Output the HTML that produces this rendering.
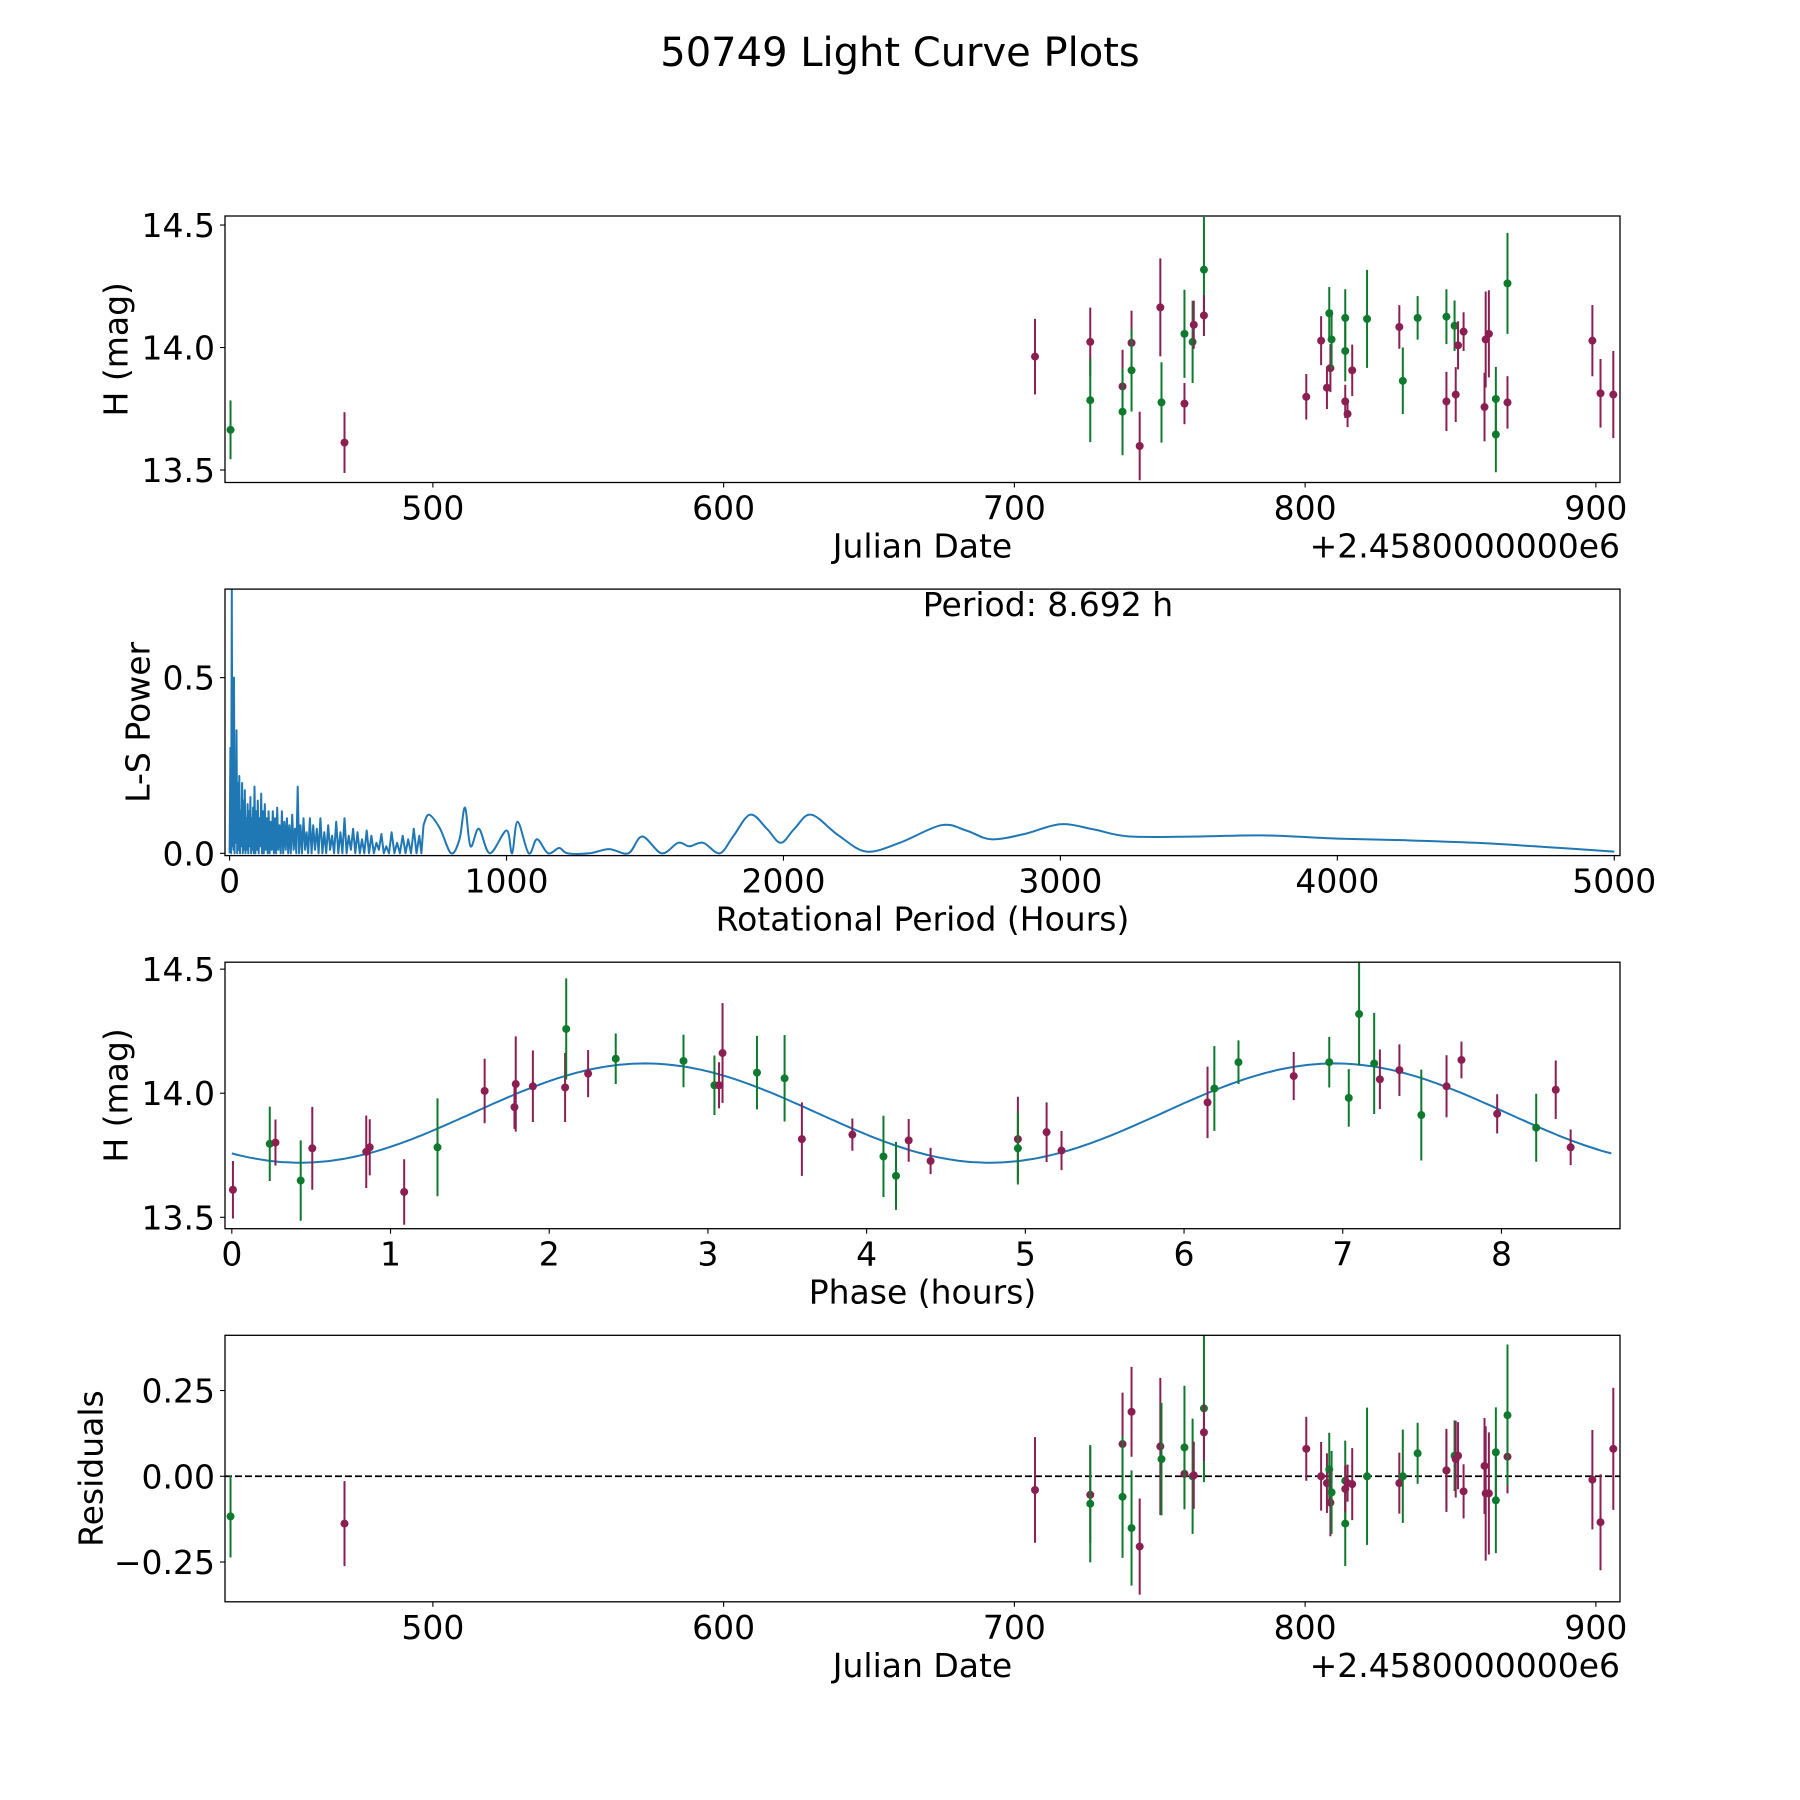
<!DOCTYPE html>
<html><head><meta charset="utf-8">
<style>
html,body{margin:0;padding:0;background:#fff;}
svg{display:block;font-family:"DejaVu Sans","Liberation Sans",sans-serif;}
</style></head>
<body>
<svg id="fig" width="1800" height="1800" viewBox="0 0 1800 1800" xmlns="http://www.w3.org/2000/svg">
<rect width="1800" height="1800" fill="#fff"/>
<text x="900" y="66" font-size="40" text-anchor="middle">50749 Light Curve Plots</text>
</svg>
<script>
// ---------- Panel 1: light curve vs Julian date ----------
const lcDates = [430.4,469.6,707.1,726.1,726.1,737.2,737.2,740.3,740.3,743.1,750.2,750.6,758.5,758.5,761.3,761.7,765.2,765.2,800.4,805.5,807.5,808.3,808.7,809.1,813.8,813.8,813.8,814.6,816.2,821.3,832.4,833.6,838.7,848.6,848.6,851.4,851.8,852.6,854.5,861.7,862.1,863.2,865.6,865.6,869.6,869.6,898.8,901.6,906.0];
const lcMags = [13.664,13.612,13.963,14.023,13.785,13.841,13.738,14.019,13.907,13.598,14.164,13.776,13.771,14.056,14.023,14.093,14.318,14.131,13.799,14.028,13.836,14.14,13.916,14.033,14.121,13.986,13.78,13.729,13.907,14.117,14.084,13.864,14.121,14.126,13.78,14.089,13.808,14.009,14.065,13.757,14.033,14.056,13.79,13.645,13.776,14.262,14.028,13.813,13.808];
const lcErrs = [0.12,0.124,0.154,0.14,0.171,0.15,0.178,0.131,0.168,0.14,0.2,0.164,0.084,0.18,0.168,0.098,0.215,0.084,0.093,0.1,0.087,0.107,0.098,0.121,0.117,0.124,0.068,0.054,0.105,0.2,0.089,0.136,0.089,0.112,0.121,0.103,0.112,0.098,0.079,0.14,0.196,0.178,0.131,0.154,0.107,0.206,0.145,0.14,0.178];
const lcBands = ["g","p","p","p","g","p","g","p","g","p","p","g","p","g","g","p","g","p","p","p","p","g","p","g","g","g","p","p","p","g","p","g","g","g","p","g","p","p","p","p","p","p","g","g","p","g","p","p","p"];
// ---------- Panel 4: residuals (same observations) ----------
const resValues = [-0.117,-0.138,-0.04,-0.054,-0.08,0.094,-0.06,0.188,-0.151,-0.205,0.087,0.05,0.007,0.084,0.0,0.003,0.198,0.128,0.08,0.0,-0.02,0.02,-0.077,-0.047,-0.013,-0.138,-0.037,-0.02,-0.023,0.0,-0.02,0.0,0.067,0.017,0.017,0.06,0.05,0.06,-0.044,0.03,-0.05,-0.05,0.07,-0.07,0.057,0.178,-0.01,-0.134,0.08];
// ---------- Panel 3: phased light curve ----------
const phHours = [0.007,0.239,0.275,0.434,0.507,0.847,0.869,1.086,1.296,1.593,1.781,1.789,1.897,2.100,2.107,2.245,2.419,2.846,3.041,3.070,3.092,3.309,3.483,3.592,3.910,4.106,4.185,4.265,4.403,4.953,4.953,5.134,5.228,6.148,6.191,6.343,6.691,6.915,7.038,7.103,7.198,7.234,7.357,7.495,7.654,7.748,7.973,8.219,8.342,8.436];
const phMags = [13.611,13.796,13.801,13.648,13.778,13.764,13.782,13.602,13.782,14.009,13.944,14.037,14.028,14.023,14.259,14.079,14.139,14.130,14.032,14.032,14.162,14.083,14.060,13.815,13.833,13.745,13.667,13.810,13.727,13.815,13.778,13.843,13.769,13.963,14.019,14.125,14.069,14.125,13.981,14.319,14.120,14.056,14.093,13.912,14.028,14.134,13.917,13.861,14.014,13.782];
const phErrs = [0.116,0.150,0.093,0.162,0.167,0.146,0.113,0.132,0.197,0.130,0.088,0.192,0.144,0.139,0.204,0.095,0.102,0.106,0.120,0.093,0.201,0.148,0.174,0.148,0.065,0.164,0.137,0.086,0.053,0.171,0.146,0.120,0.079,0.144,0.171,0.088,0.097,0.102,0.116,0.208,0.204,0.120,0.104,0.183,0.125,0.074,0.079,0.137,0.118,0.072];
const phBands = ["p","g","p","g","p","p","p","p","g","p","p","p","p","p","g","p","g","g","g","p","p","g","g","p","p","g","g","p","p","p","g","p","p","p","g","g","p","g","g","g","g","p","p","g","p","p","p","g","p","p"];
// fit model parameters: [mean mag, amplitude, half-period (h), phase of minimum (h), full period (h)]
const fitParams = [13.92, 0.2, 4.346, 0.43, 8.692];
// ---------- Panel 2: Lomb-Scargle periodogram ----------
const lsSpikePeriods = [3,8,12,16,20,25,30,35,40,45,50,55,60,65,70,75,80,85,90,96,102,108,114,120,127,134,141,148,156,164,172,180,189,198,207,216,226,236,246,256,267,278,290,302,315,328,342,356,370,385,400,415,430,446,462,478,495,512,530,548,566,585,605,625,645,665,685];
const lsSpikePower = [0.3,0.75,0.45,0.5,0.25,0.35,0.2,0.22,0.12,0.2,0.15,0.18,0.1,0.14,0.12,0.16,0.1,0.13,0.19,0.12,0.15,0.1,0.17,0.12,0.14,0.1,0.12,0.09,0.12,0.1,0.13,0.08,0.12,0.09,0.1,0.08,0.11,0.07,0.19,0.08,0.1,0.06,0.1,0.08,0.07,0.1,0.06,0.08,0.05,0.09,0.06,0.1,0.05,0.07,0.06,0.04,0.065,0.05,0.03,0.055,0.02,0.06,0.03,0.05,0.04,0.07,0.05];
const lsTroughPower = [0.0,0.02,0.01,0.0,0.03,0.0,0.01,0.0,0.02,0.0,0.01,0.0,0.01,0.0,0.02,0.0,0.01,0.0,0.0,0.01,0.0,0.02,0.0,0.0,0.01,0.0,0.0,0.01,0.0,0.0,0.01,0.0,0.0,0.01,0.0,0.0,0.01,0.0,0.0,0.0,0.01,0.0,0.0,0.01,0.0,0.0,0.0,0.01,0.0,0.0,0.0,0.0,0.01,0.0,0.0,0.0,0.0,0.0,0.01,0.0,0.0,0.0,0.0,0.0,0.0,0.0,0.0];
const lsSmoothPeriods = [700,720,760,800,830,850,870,900,940,1000,1020,1040,1080,1110,1150,1190,1220,1300,1370,1440,1490,1560,1620,1660,1710,1770,1820,1880,1940,1990,2040,2100,2200,2300,2420,2570,2660,2750,2870,3000,3120,3250,3500,3730,4000,4250,4500,4750,5000];
const lsSmoothPower = [0.08,0.11,0.07,0.0,0.04,0.13,0.02,0.07,0.0,0.065,0.0,0.09,0.0,0.04,0.0,0.015,0.0,0.0,0.012,0.0,0.048,0.0,0.03,0.02,0.03,0.0,0.05,0.11,0.07,0.03,0.07,0.11,0.05,0.005,0.03,0.08,0.065,0.04,0.055,0.083,0.068,0.048,0.048,0.051,0.042,0.037,0.03,0.018,0.005];

const NS = "http://www.w3.org/2000/svg";
const svg = document.getElementById('fig');
const L = 225, R = 1620, H = 266.5;
const tops = [216, 589.1, 962.2, 1335.3];
const COL = {p:"#8b1f52", g:"#0e7a2e"};
const FS = 33;

function mk(tag, attrs, parent){
  const e = document.createElementNS(NS, tag);
  for (const k in attrs) e.setAttribute(k, attrs[k]);
  (parent||svg).appendChild(e);
  return e;
}
function lin(d0,d1,p0,p1){ return v => p0 + (v-d0)*(p1-p0)/(d1-d0); }

function makeAxes(i, xlim, ylim, name){
  const top = tops[i], bot = top + H;
  const g = mk('g', {});
  
  
  const clipId = 'clip'+i;
  const cp = mk('clipPath', {id: clipId}, g);
  mk('rect', {x:L, y:top, width:R-L, height:H}, cp);
  const plot = mk('g', {'clip-path':'url(#'+clipId+')'}, g);
  return {g, plot, top, bot, x: lin(xlim[0],xlim[1],L,R), y: lin(ylim[0],ylim[1],bot,top)};
}
function frame(ax){
  const f = mk('rect', {x:L, y:ax.top, width:R-L, height:H, fill:'none', stroke:'#000', 'stroke-width':1.3}, ax.g);
  
  
}
function xticks(ax, vals, labels){
  vals.forEach((v,k)=>{
    const px = ax.x(v);
    mk('line', {x1:px, x2:px, y1:ax.bot, y2:ax.bot+5, stroke:'#000', 'stroke-width':1.1}, ax.g);
    const t = mk('text', {x:px, y:ax.bot+37, 'font-size':FS, 'text-anchor':'middle'}, ax.g);
    
    
    t.textContent = labels[k];
  });
}
function yticks(ax, vals, labels){
  vals.forEach((v,k)=>{
    const py = ax.y(v);
    mk('line', {x1:L-5, x2:L, y1:py, y2:py, stroke:'#000', 'stroke-width':1.1}, ax.g);
    const t = mk('text', {x:L-10, y:py+12, 'font-size':FS, 'text-anchor':'end'}, ax.g);
    
    
    t.textContent = labels[k];
  });
}
function xlabel(ax, txt, offset){
  const t = mk('text', {x:(L+R)/2, y:ax.bot+75, 'font-size':FS, 'text-anchor':'middle'}, ax.g);
  
  
  t.textContent = txt;
  if (offset){
    const o = mk('text', {x:R, y:ax.bot+75, 'font-size':FS, 'text-anchor':'end'}, ax.g);
    
    
    o.textContent = offset;
  }
}
function ylabel(ax, txt, cx){
  const cy = ax.top + H/2;
  const t = mk('text', {x:cx, y:cy, 'font-size':FS, 'text-anchor':'middle', 'dominant-baseline':'central', transform:'rotate(-90 '+cx+' '+cy+')'}, ax.g);
  
  
  t.textContent = txt;
}
function errPoints(ax, xs, ys, es, bands){
  xs.forEach((xv,k)=>{
    const c = COL[bands[k]];
    const px = ax.x(xv), py = ax.y(ys[k]);
    const eb = mk('line', {x1:px, x2:px, y1:ax.y(ys[k]-es[k]), y2:ax.y(ys[k]+es[k]), stroke:c, 'stroke-width':2}, ax.plot);
    
    
    const m = mk('circle', {cx:px, cy:py, r:4, fill:c}, ax.plot);
    
    
  });
}

const dateTicks = [500,600,700,800,900], dateLabels = ["500","600","700","800","900"];
const magTicks = [13.5,14.0,14.5], magLabels = ["13.5","14.0","14.5"];

// Panel 1
const a1 = makeAxes(0, [428.5, 908.3], [13.449, 14.537], 'light-curve-panel');
errPoints(a1, lcDates, lcMags, lcErrs, lcBands);
frame(a1);
xticks(a1, dateTicks, dateLabels);
yticks(a1, magTicks, magLabels);
xlabel(a1, 'Julian Date', '+2.4580000000e6');
ylabel(a1, 'H (mag)', 116);

// Panel 2
const a2 = makeAxes(1, [-16.6, 5020.7], [-0.0065, 0.752], 'periodogram-panel');
(function(){
  const pts = [[0, 0]];
  lsSpikePeriods.forEach((p,k)=>{
    pts.push([p, lsSpikePower[k]]);
    const next = k+1 < lsSpikePeriods.length ? lsSpikePeriods[k+1] : lsSmoothPeriods[0];
    pts.push([(p+next)/2, lsTroughPower[k]]);
  });
  let d = pts.map((q,k)=>(k?'L':'M')+a2.x(q[0]).toFixed(1)+' '+a2.y(q[1]).toFixed(1)).join(' ');
  // smooth section: Catmull-Rom spline through samples
  const sp = lsSmoothPeriods.map((p,k)=>[a2.x(p), a2.y(lsSmoothPower[k])]);
  d += ' L'+sp[0][0].toFixed(1)+' '+sp[0][1].toFixed(1);
  for (let k=0;k<sp.length-1;k++){
    const p0 = sp[Math.max(0,k-1)], p1 = sp[k], p2 = sp[k+1], p3 = sp[Math.min(sp.length-1,k+2)];
    const c1x = p1[0]+(p2[0]-p0[0])/6, c1y = p1[1]+(p2[1]-p0[1])/6;
    const c2x = p2[0]-(p3[0]-p1[0])/6, c2y = p2[1]-(p3[1]-p1[1])/6;
    d += ' C'+c1x.toFixed(1)+' '+c1y.toFixed(1)+' '+c2x.toFixed(1)+' '+c2y.toFixed(1)+' '+p2[0].toFixed(1)+' '+p2[1].toFixed(1);
  }
  const path = mk('path', {d, fill:'none', stroke:'#1f77b4', 'stroke-width':2, 'stroke-linejoin':'round'}, a2.plot);
  
  
})();
frame(a2);
xticks(a2, [0,1000,2000,3000,4000,5000], ["0","1000","2000","3000","4000","5000"]);
yticks(a2, [0,0.5], ["0.0","0.5"]);
xlabel(a2, 'Rotational Period (Hours)');
ylabel(a2, 'L-S Power', 138);
(function(){
  const t = mk('text', {x:1048, y:616, 'font-size':FS, 'text-anchor':'middle'}, a2.g);
  
  
  t.textContent = 'Period: ' + fitParams[4].toFixed(3) + ' h';
})();

// Panel 3
const a3 = makeAxes(2, [-0.043, 8.747], [13.454, 14.528], 'phase-panel');
(function(){
  const n = 300, pts = [];
  for (let k=0;k<=n;k++){
    const p = fitParams[4]*k/n;
    const m = fitParams[0] - fitParams[1]*Math.cos(2*Math.PI*(p-fitParams[3])/fitParams[2]);
    pts.push((k?'L':'M')+a3.x(p).toFixed(1)+' '+a3.y(m).toFixed(1));
  }
  const path = mk('path', {d:pts.join(' '), fill:'none', stroke:'#1f77b4', 'stroke-width':2}, a3.plot);
  
  
})();
errPoints(a3, phHours, phMags, phErrs, phBands);
frame(a3);
xticks(a3, [0,1,2,3,4,5,6,7,8], ["0","1","2","3","4","5","6","7","8"]);
yticks(a3, magTicks, magLabels);
xlabel(a3, 'Phase (hours)');
ylabel(a3, 'H (mag)', 116);

// Panel 4
const a4 = makeAxes(3, [428.5, 908.3], [-0.366, 0.411], 'residuals-panel');
(function(){
  const z = mk('line', {x1:L, x2:R, y1:a4.y(0), y2:a4.y(0), stroke:'#000', 'stroke-width':1.8, 'stroke-dasharray':'7,3'}, a4.plot);
  
  
})();
errPoints(a4, lcDates, resValues, lcErrs, lcBands);
frame(a4);
xticks(a4, dateTicks, dateLabels);
yticks(a4, [-0.25,0,0.25], ["\u22120.25","0.00","0.25"]);
xlabel(a4, 'Julian Date', '+2.4580000000e6');
ylabel(a4, 'Residuals', 91);
</script>
</body></html>
